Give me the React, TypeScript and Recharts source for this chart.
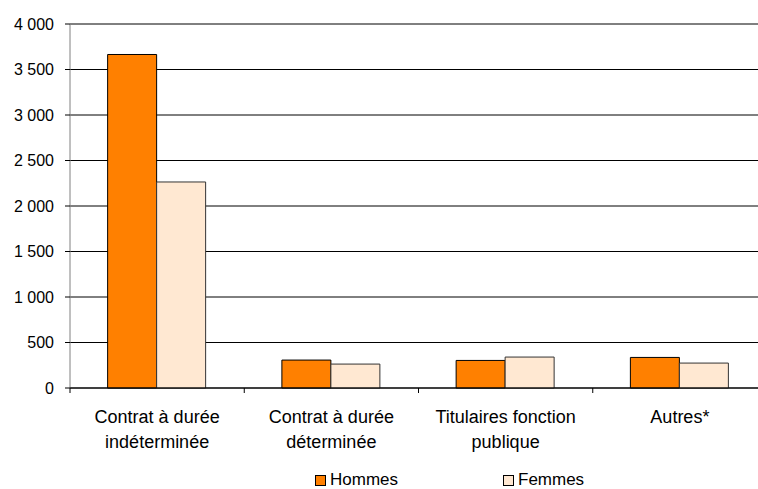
import React from "react";
import { BarChart, Bar, XAxis, YAxis, CartesianGrid } from "recharts";

const categories = [
  "Contrat à durée\nindéterminée",
  "Contrat à durée\ndéterminée",
  "Titulaires fonction\npublique",
  "Autres*",
];
const hommes = [3665, 307, 303, 336];
const femmes = [2264, 263, 340, 274];
const yTicks = [0, 500, 1000, 1500, 2000, 2500, 3000, 3500, 4000];
const seriesNames = ["Hommes", "Femmes"];
const colors = ["#FF8000", "#FFE8D2"];

const data = categories.map((c, i) => ({ name: c, Hommes: hommes[i], Femmes: femmes[i] }));

const FONT = "'Liberation Sans', Arial, sans-serif";

const fmt = (v: number) => String(v).replace(/\B(?=(\d{3})+(?!\d))/g, " ");

const XTick = (props: any) => {
  const { x, y, payload, index } = props;
  const half = payload && payload.offset ? payload.offset : 87;
  const lines = String(payload.value).split("\n");
  return (
    <g>
      <line x1={x - half} x2={x - half} y1={y} y2={y + 5} stroke="#000" />
      {index === categories.length - 1 && (
        <line x1={x + half} x2={x + half} y1={y} y2={y + 5} stroke="#000" />
      )}
      <text x={x} y={y} textAnchor="middle" fontSize={18} fill="#000" fontFamily={FONT}>
        {lines.map((l, i) => (
          <tspan key={i} x={x} dy={i === 0 ? 35 : 25}>
            {l}
          </tspan>
        ))}
      </text>
    </g>
  );
};

export default function App() {
  return (
    <div
      style={{
        position: "absolute",
        left: 0,
        top: 0,
        width: 758,
        height: 489,
        overflow: "hidden",
        background: "#fff",
        fontFamily: FONT,
      }}
    >
      <BarChart
        width={770}
        height={489}
        data={data}
        margin={{ top: 24, right: 3, left: 0, bottom: 41 }}
        barCategoryGap="21.6%"
        barGap={0}
      >
        <CartesianGrid vertical={false} stroke="#000" />
        <YAxis
          width={70}
          domain={[0, 4000]}
          ticks={yTicks}
          tickFormatter={fmt}
          tickSize={5}
          tickMargin={11}
          axisLine={{ stroke: "#808080" }}
          tickLine={{ stroke: "#000" }}
          tick={{ fontSize: 16, fill: "#000", fontFamily: FONT }}
          interval={0}
        />
        <XAxis
          dataKey="name"
          height={60}
          tickSize={0}
          tickMargin={0}
          tickLine={false}
          axisLine={{ stroke: "#000" }}
          tick={<XTick />}
          interval={0}
        />
        <Bar dataKey="Hommes" fill={colors[0]} stroke="#000" strokeWidth={1} isAnimationActive={false} />
        <Bar dataKey="Femmes" fill={colors[1]} stroke="#333" strokeWidth={1} isAnimationActive={false} />
      </BarChart>
      {seriesNames.map((n, i) => (
        <div
          key={n}
          style={{
            position: "absolute",
            left: i === 0 ? 315 : 503,
            top: 472,
            height: 16,
            display: "flex",
            alignItems: "center",
            fontSize: 17,
            color: "#000",
            lineHeight: "16px",
          }}
        >
          <span
            style={{
              display: "inline-block",
              width: 9,
              height: 9,
              background: colors[i],
              border: "1px solid #000",
              marginRight: 4,
            }}
          />
          {n}
        </div>
      ))}
    </div>
  );
}
